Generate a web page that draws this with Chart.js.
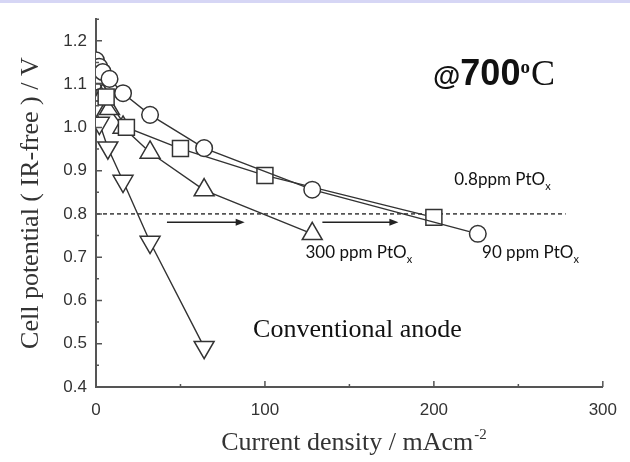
<!DOCTYPE html>
<html>
<head>
<meta charset="utf-8">
<script src="https://cdn.jsdelivr.net/npm/chart.js@4.4.1/dist/chart.umd.min.js"></script>
<style>
html, body { margin: 0; padding: 0; background: #fff; }
#wrap { position: relative; width: 630px; height: 462px; }
#strip { position: absolute; left: 0; top: 0; width: 630px; height: 3px; background: #d6d6f5; }
</style>
</head>
<body>
<div id="wrap">
	<canvas id="chart" width="630" height="462"></canvas>
	<div id="strip"></div>
</div>
<script>
// 90 ppm PtOx (circles)
const ppm90X = [0, 2, 4, 8, 16, 32, 64, 128, 226]
const ppm90Y = [1.155, 1.14, 1.128, 1.112, 1.079, 1.029, 0.952, 0.856, 0.754]
// 0.8 ppm PtOx (squares)
const ppm08X = [0, 6, 18, 50, 100, 200]
const ppm08Y = [1.12, 1.07, 1.0, 0.951, 0.889, 0.792]
// 300 ppm PtOx (up triangles)
const ppm300X = [0, 4, 8, 16, 32, 64, 128]
const ppm300Y = [1.1, 1.074, 1.043, 1.0, 0.942, 0.855, 0.754]
// conventional anode (down triangles)
const convX = [0, 2, 7, 16, 32, 64]
const convY = [1.05, 1.01, 0.953, 0.876, 0.735, 0.492]

const refLevel = 0.8
const refEnd = 278
const arrowFrom = [42, 134]
const arrowTo = [88, 179]
const arrowLevel = 0.781

const xTicks = [0, 100, 200, 300]
const xMinor = [50, 150, 250]
const yTicks = [0.4, 0.5, 0.6, 0.7, 0.8, 0.9, 1.0, 1.1, 1.2]
const yMinor = [0.45, 0.55, 0.65, 0.75, 0.85, 0.95, 1.05, 1.15, 1.25]

function pts(xs, ys) {
	return xs.map((x, i) => ({ x: x, y: ys[i] }))
}

const ink = '#333'

function series(label, xs, ys, style, radius, rotation) {
	return {
		label: label,
		data: pts(xs, ys),
		borderColor: ink,
		borderWidth: 1.4,
		pointStyle: style,
		pointRadius: radius,
		pointRotation: rotation || 0,
		pointBorderWidth: 1.5,
		pointBackgroundColor: '#fff',
		pointBorderColor: ink,
		tension: 0
	}
}

function drawSub(ctx, main, sub, x, y, size) {
	ctx.font = size + 'px Lato, "Open Sans", sans-serif'
	ctx.fillText(main, x, y)
	const w = ctx.measureText(main).width
	ctx.font = Math.round(size * 0.65) + 'px Lato, "Open Sans", sans-serif'
	ctx.fillText(sub, x + w, y + size * 0.3)
}

const decor = {
	id: 'decor',
	beforeDatasetsDraw(chart) {
		const ctx = chart.ctx
		const xs = chart.scales.x
		const ys = chart.scales.y
		ctx.save()
		ctx.strokeStyle = '#222'
		ctx.fillStyle = '#222'
		ctx.lineWidth = 1.5
		for (let i = 0; i < arrowFrom.length; i++) {
			const x0 = xs.getPixelForValue(arrowFrom[i])
			const x1 = xs.getPixelForValue(arrowTo[i])
			const y = ys.getPixelForValue(arrowLevel)
			ctx.beginPath()
			ctx.moveTo(x0, y)
			ctx.lineTo(x1 - 6, y)
			ctx.stroke()
			ctx.beginPath()
			ctx.moveTo(x1, y)
			ctx.lineTo(x1 - 9, y - 3.5)
			ctx.lineTo(x1 - 9, y + 3.5)
			ctx.closePath()
			ctx.fill()
		}
		ctx.restore()
	},
	afterDraw(chart) {
		const ctx = chart.ctx
		const xs = chart.scales.x
		const ys = chart.scales.y
		const area = chart.chartArea
		ctx.save()
		// inward tick marks
		ctx.strokeStyle = '#555'
		ctx.lineWidth = 1.5
		ctx.beginPath()
		yTicks.forEach(v => { const y = ys.getPixelForValue(v); ctx.moveTo(area.left, y); ctx.lineTo(area.left + 6, y) })
		yMinor.forEach(v => { const y = ys.getPixelForValue(v); ctx.moveTo(area.left, y); ctx.lineTo(area.left + 3, y) })
		xTicks.forEach(v => { const x = xs.getPixelForValue(v); ctx.moveTo(x, area.bottom); ctx.lineTo(x, area.bottom - 6) })
		xMinor.forEach(v => { const x = xs.getPixelForValue(v); ctx.moveTo(x, area.bottom); ctx.lineTo(x, area.bottom - 3) })
		ctx.stroke()

		// x axis title with superscript
		ctx.fillStyle = '#333'
		ctx.textBaseline = 'alphabetic'
		ctx.font = '26px "Liberation Serif", "Times New Roman", serif'
		const t = 'Current density / mAcm'
		const tw = ctx.measureText(t).width
		ctx.font = '15px "Liberation Serif", "Times New Roman", serif'
		const sw = ctx.measureText('-2').width
		const tx = (area.left + area.right) / 2 - (tw + sw) / 2 + 4
		ctx.font = '26px "Liberation Serif", "Times New Roman", serif'
		ctx.fillText(t, tx, 450)
		ctx.font = '15px "Liberation Serif", "Times New Roman", serif'
		ctx.fillText('-2', tx + tw + 1, 439)

		// annotations
		ctx.fillStyle = '#111'
		drawSub(ctx, '0.8ppm PtO', 'x', xs.getPixelForValue(212), ys.getPixelForValue(0.867), 17)
		drawSub(ctx, '300 ppm PtO', 'x', xs.getPixelForValue(124), ys.getPixelForValue(0.698), 17)
		drawSub(ctx, '90 ppm PtO', 'x', xs.getPixelForValue(228.5), ys.getPixelForValue(0.698), 17)

		ctx.font = '26px "Liberation Serif", "Times New Roman", serif'
		ctx.fillText('Conventional anode', xs.getPixelForValue(93), ys.getPixelForValue(0.515))

		let hx = xs.getPixelForValue(199.5)
		const hy = ys.getPixelForValue(1.099)
		ctx.font = 'bold 28px "Liberation Sans", Arial, sans-serif'
		ctx.fillText('@', hx, hy)
		hx += ctx.measureText('@').width
		ctx.font = 'bold 36px "Liberation Sans", Arial, sans-serif'
		ctx.fillText('700', hx, hy)
		hx += ctx.measureText('700').width
		ctx.font = 'bold 19px "Liberation Serif", "Times New Roman", serif'
		ctx.fillText('o', hx, hy - 12)
		hx += ctx.measureText('o').width + 1
		ctx.font = '36px "Liberation Serif", "Times New Roman", serif'
		ctx.fillText('C', hx, hy)
		ctx.restore()
	}
}

const tickFont = { family: '"Liberation Sans", Arial, sans-serif', size: 17 }

new Chart(document.getElementById('chart'), {
	type: 'line',
	data: {
		datasets: [
			series('90 ppm PtOx', ppm90X, ppm90Y, 'circle', 8.3),
			series('0.8ppm PtOx', ppm08X, ppm08Y, 'rect', 11.3),
			series('300 ppm PtOx', ppm300X, ppm300Y, 'triangle', 11.5),
			series('Conventional anode', convX, convY, 'triangle', 11.5, 180),
			{
				label: 'ref',
				data: [{ x: 0, y: refLevel }, { x: refEnd, y: refLevel }],
				borderColor: '#555',
				borderWidth: 1.6,
				borderDash: [4, 3],
				pointRadius: 0
			}
		]
	},
	plugins: [decor],
	options: {
		responsive: false,
		animation: false,
		layout: { padding: { top: 10, right: 21, left: 0, bottom: 0 } },
		plugins: {
			legend: { display: false },
			tooltip: { enabled: false }
		},
		scales: {
			x: {
				type: 'linear',
				min: 0,
				max: 300,
				ticks: { stepSize: 100, padding: 13, color: ink, font: tickFont, maxRotation: 0 },
				grid: { display: false, drawTicks: false },
				border: { display: true, color: '#555', width: 2 },
				afterFit(s) { s.height = 75 }
			},
			y: {
				min: 0.4,
				max: 1.25,
				ticks: {
					stepSize: 0.1,
					padding: 9,
					color: ink,
					font: tickFont,
					callback: v => v.toFixed(1)
				},
				afterBuildTicks(s) {
					s.ticks = s.ticks.filter(t => Math.abs(t.value * 10 - Math.round(t.value * 10)) < 1e-6 && t.value < 1.21)
				},
				grid: { display: false, drawTicks: false },
				border: { display: true, color: '#555', width: 2 },
				title: {
					display: true,
					text: 'Cell potential ( IR-free ) / V',
					color: '#333',
					font: { family: '"Liberation Serif", "Times New Roman", serif', size: 26 },
					padding: { top: 16, bottom: 0 }
				},
				afterFit(s) { s.width = 96 }
			}
		}
	}
})
</script>
</body>
</html>
